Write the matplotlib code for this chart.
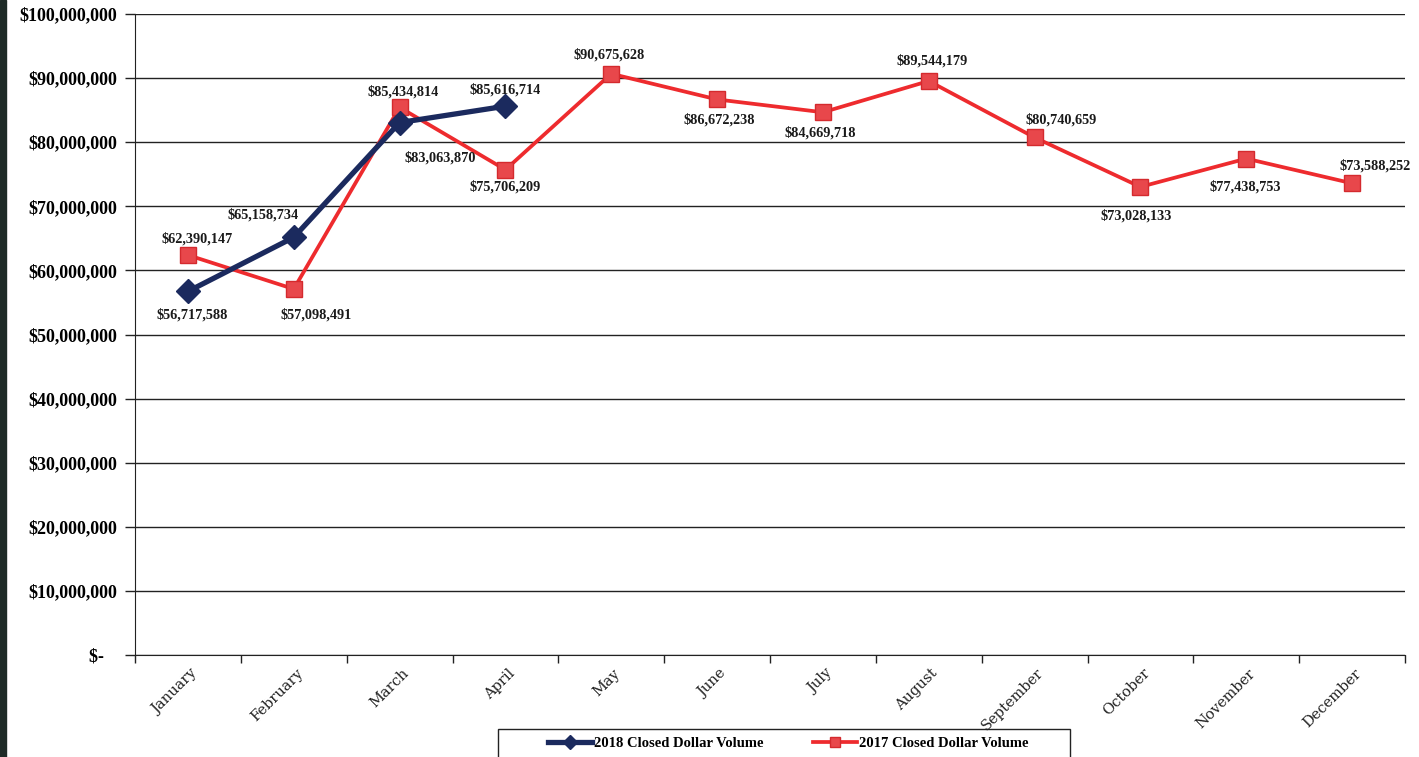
import matplotlib
matplotlib.use("Agg")
import matplotlib.pyplot as plt
from matplotlib.patches import Rectangle
from matplotlib.ticker import FuncFormatter

months = ["January", "February", "March", "April", "May", "June", "July",
          "August", "September", "October", "November", "December"]
vol_2018 = [56717588, 65158734, 83063870, 85616714]
vol_2017 = [62390147, 57098491, 85434814, 75706209, 90675628, 86672238,
            84669718, 89544179, 80740659, 73028133, 77438753, 73588252]
# label offsets in pixels (dx, dy)
off_2018 = [(4, -23), (-31, 23), (41, -35), (0, 16)]
off_2017 = [(9, 16), (22, -26), (4, 16), (0, -17), (-2, 19), (2, -20),
            (-3, -21), (3, 20), (27, 18), (-4, -29), (-1, -28), (23, 18)]

plt.rcParams['font.family'] = ['Liberation Serif', 'DejaVu Serif']

fig = plt.figure(figsize=(14.19, 7.57), dpi=100)
ax = fig.add_axes([135/1419, 102/757, 1270/1419, 641/757])

x18 = list(range(len(vol_2018)))
x17 = list(range(len(vol_2017)))

navy = '#1b2a5e'
red = '#ee2b2e'

ax.plot(x18, vol_2018, color=navy, lw=3.8, marker='D', ms=12.5,
        mfc=navy, mec=navy, zorder=4, label='2018 Closed Dollar Volume')
ax.plot(x17, vol_2017, color=red, lw=2.7, marker='s', ms=12,
        mfc='#e8474b', mec='#d42a2e', mew=1.0, zorder=3,
        label='2017 Closed Dollar Volume')

for i, v in enumerate(vol_2018):
    ax.annotate(f"${v:,.0f}", (x18[i], v), xytext=off_2018[i],
                textcoords='offset pixels', ha='center', va='center',
                fontsize=10.3, fontweight='bold', color='#1a1a1a', zorder=6)
for i, v in enumerate(vol_2017):
    ax.annotate(f"${v:,.0f}", (x17[i], v), xytext=off_2017[i],
                textcoords='offset pixels', ha='center', va='center',
                fontsize=10.3, fontweight='bold', color='#1a1a1a', zorder=6)

ax.set_xlim(-0.5, 11.5)
ax.set_ylim(0, 100000000)
ax.set_yticks(range(0, 100000001, 10000000))
ax.yaxis.set_major_formatter(FuncFormatter(
    lambda v, p: "$-   " if v == 0 else f"${v:,.0f}"))
for lbl in ax.get_yticklabels():
    lbl.set_fontweight('bold')
ax.tick_params(axis='y', labelsize=13, length=7, width=1, color='#222222',
               pad=6)

ax.set_xticks(x17)
ax.set_xticklabels(months, rotation=45, ha='right', rotation_mode='anchor',
                   fontsize=10.5, family='DejaVu Serif', color='#222222')
ax.set_xticks([i + 0.5 for i in range(-1, 12)], minor=True)
ax.tick_params(axis='x', which='major', length=0, pad=8)
ax.tick_params(axis='x', which='minor', length=6, width=1, color='#222222')
for lbl in ax.get_xticklabels():
    lbl.set_transform(lbl.get_transform() +
                      matplotlib.transforms.ScaledTranslation(2/100, 0, fig.dpi_scale_trans))

ax.grid(axis='y', color='#222222', lw=1.0)
ax.set_axisbelow(True)
for s in ['top', 'right']:
    ax.spines[s].set_visible(False)
ax.spines['left'].set_color('#222222')
ax.spines['bottom'].set_color('#222222')

# legend box drawn manually to match the wide frame
fig.patches.append(Rectangle((498/1419, -10/757), 572/1419, 38/757,
                             transform=fig.transFigure, fill=False,
                             edgecolor='#222222', lw=1.0, zorder=5))
leg = fig.legend(loc='center', bbox_to_anchor=(788/1419, 14/757),
                 ncol=2, frameon=False,
                 prop={'weight': 'bold', 'size': 10.5}, handlelength=3.0,
                 markerscale=0.55, columnspacing=3.4, borderpad=0.0,
                 handletextpad=0.15)

fig.patches.append(Rectangle((0, 0), 6/1419, 1, transform=fig.transFigure,
                             color='#1e2b27', zorder=10))

fig.savefig("out.png", dpi=100)
